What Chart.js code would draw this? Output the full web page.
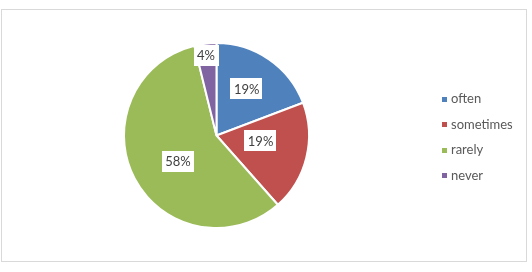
<!DOCTYPE html>
<html>
<head>
<meta charset="utf-8">
<script src="https://cdn.jsdelivr.net/npm/chart.js@4"></script>
<style>
  html, body { margin: 0; padding: 0; background: #fff; }
  #wrap { width: 532px; height: 272px; position: relative; }
</style>
</head>
<body>
<div id="wrap"><canvas id="grafico" width="532" height="272"></canvas></div>
<script>
// answers counted per category
const categorias = ['often', 'sometimes', 'rarely', 'never'];
const respostas = [5, 5, 15, 1];
const cores = ['#4F81BD', '#C0504D', '#9BBB59', '#8064A2'];

// where each percent label sits: [angle from top in degrees, fraction of radius]
const posRotulos = [[33, 0.60], [97, 0.48], [236.5, 0.50], [352.5, 0.87]];

const moldura = {
    id: 'moldura',
    beforeDraw(chart) {
        const ctx = chart.ctx;
        ctx.save();
        ctx.fillStyle = '#fff';
        ctx.fillRect(0, 0, chart.width, chart.height);
        ctx.strokeStyle = '#d9d9d9';
        ctx.lineWidth = 1;
        ctx.strokeRect(1.5, 9.5, 525, 252);
        ctx.restore();
    }
};

const rotulos = {
    id: 'rotulos',
    afterDatasetsDraw(chart) {
        const ctx = chart.ctx;
        const meta = chart.getDatasetMeta(0);
        const dados = chart.data.datasets[0].data;
        const total = dados.reduce((a, b) => a + b, 0);
        ctx.save();
        ctx.font = '13px Lato';
        ctx.textAlign = 'center';
        ctx.textBaseline = 'middle';
        meta.data.forEach(function (arco, i) {
            const p = posRotulos[i];
            const ang = (p[0] - 90) * Math.PI / 180;
            const x = arco.x + Math.cos(ang) * arco.outerRadius * p[1];
            const y = arco.y + Math.sin(ang) * arco.outerRadius * p[1];
            const texto = Math.round(dados[i] / total * 100) + '%';
            const w = ctx.measureText(texto).width + 7;
            const h = 21;
            ctx.fillStyle = '#fff';
            ctx.fillRect(Math.round(x - w / 2), Math.round(y - h / 2), Math.round(w), h);
            ctx.fillStyle = '#404040';
            ctx.fillText(texto, x, y + 0.5);
        });
        ctx.restore();
    }
};

const legenda = {
    id: 'legenda',
    afterDraw(chart) {
        const ctx = chart.ctx;
        ctx.save();
        ctx.font = '13px Lato';
        ctx.textBaseline = 'middle';
        chart.data.labels.forEach(function (nome, i) {
            const y = 99 + i * 25.5;
            ctx.fillStyle = cores[i];
            ctx.fillRect(442, Math.round(y - 2.5), 5, 5);
            ctx.fillStyle = '#595959';
            ctx.fillText(nome, 451, y);
        });
        ctx.restore();
    }
};

const ctx = document.getElementById('grafico').getContext('2d');
new Chart(ctx, {
    type: 'pie',
    data: {
        labels: categorias,
        datasets: [{
            data: respostas,
            backgroundColor: cores,
            borderColor: '#fff',
            borderWidth: 2
        }]
    },
    options: {
        responsive: false,
        animation: false,
        layout: { padding: { left: 123, right: 222, top: 42, bottom: 43 } },
        plugins: {
            legend: { display: false },
            tooltip: { enabled: false }
        }
    },
    plugins: [moldura, rotulos, legenda]
});
</script>
</body>
</html>
